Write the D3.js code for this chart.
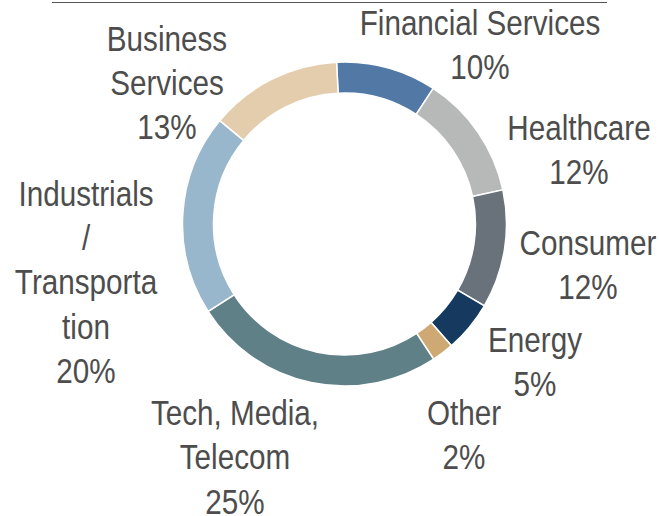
<!DOCTYPE html>
<html>
<head>
<meta charset="utf-8">
<script src="https://cdn.jsdelivr.net/npm/d3@7"></script>
<style>
  body { margin: 0; background: #fff; }
  svg text { font-family: "Liberation Sans", Arial, sans-serif; fill: #4d4d4d; }
</style>
</head>
<body>
<div id="chart"></div>
<script>
// sectors, clockwise from the top
var sectors = ["Financial Services", "Healthcare", "Consumer", "Energy", "Other",
  "Tech, Media, Telecom", "Industrials / Transportation", "Business Services"];
var shares = [10.0, 12.4, 11.8, 5.1, 2.2, 25.2, 20.1, 13.2];
var colors = ["#5279a6", "#b7b9b8", "#69717b", "#163a5f", "#cfa974", "#5f8087", "#98b6cc", "#e3cdac"];
// how each label wraps
var labelLines = [
  ["Financial Services"],
  ["Healthcare"],
  ["Consumer"],
  ["Energy"],
  ["Other"],
  ["Tech, Media,", "Telecom"],
  ["Industrials", "/", "Transporta", "tion"],
  ["Business", "Services"]
];

var width = 659, height = 516;
var cx = 344.5, cy = 224,
  outerR = 162, innerR = 131,
  lineH = 44.3,
  squeeze = 0.86; // narrow face look-alike

// label anchors (centre x, first baseline)
var labelAt = [[480, 35], [579, 140], [588, 255], [535, 351.7], [464, 425],
  [235, 425], [86, 205.7], [167, 50.7]];

var svg = d3.select("#chart").append("svg")
  .attr("width", width)
  .attr("height", height);

// rule across the top
svg.append("line")
  .attr("x1", 52).attr("x2", 607)
  .attr("y1", 2.5).attr("y2", 2.5)
  .style("stroke", "#555")
  .style("stroke-width", 1.2);

var start = -2.8 * Math.PI / 180;
var pie = d3.pie().sort(null)
  .startAngle(start)
  .endAngle(start + 2 * Math.PI);

var arc = d3.arc().innerRadius(innerR).outerRadius(outerR);

var data = sectors.map(function(s, i) {
  return { name: s, value: shares[i], color: colors[i] };
});

var g = svg.append("g")
  .attr("transform", "translate(" + cx + "," + cy + ")");

g.selectAll("path")
  .data(pie.value(function(d) { return d.value; })(data))
  .enter().append("path")
  .attr("d", arc)
  .style("fill", function(d) { return d.data.color; })
  .style("stroke", "#fff")
  .style("stroke-width", 1.5);

// labels: name lines then the rounded share
var lab = svg.selectAll(".lab")
  .data(data)
  .enter().append("text")
  .attr("class", "lab")
  .attr("text-anchor", "middle")
  .attr("transform", function(d, i) {
    return "translate(" + labelAt[i][0] + ",0) scale(" + squeeze + ",1)";
  })
  .style("font-size", "34.5px");

lab.each(function(d, i) {
  var lines = labelLines[i].concat([Math.round(d.value) + "%"]);
  var t = d3.select(this);
  lines.forEach(function(l, j) {
    t.append("tspan")
      .attr("x", 0)
      .attr("y", labelAt[i][1] + j * lineH)
      .text(l);
  });
});
</script>
</body>
</html>
